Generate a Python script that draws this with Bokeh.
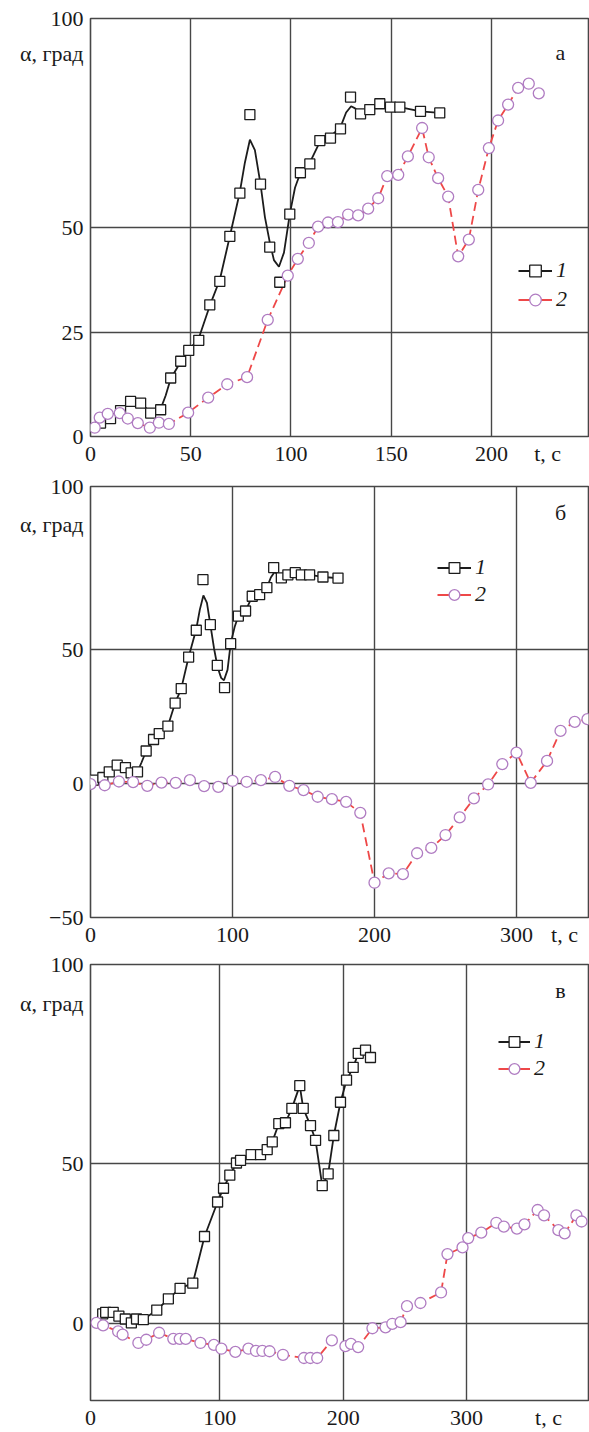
from bokeh.plotting import figure
from bokeh.models import Range1d, FixedTicker, Label, Legend, LegendItem
from bokeh.layouts import column
from bokeh.embed import file_html
from bokeh.resources import INLINE

# ---------------- Panel а ----------------
a_t1 = [5, 10, 15, 20, 25, 30, 35, 40, 45, 49, 54, 59.5, 64.5, 69.5, 74.5, 79.5, 84.8, 89.4, 94.4, 99.4,
        104.7, 109.4, 114.4, 119.7, 124.7, 129.7, 134.7, 139.3, 144.3, 149.6, 154.3, 164.6, 174.2]
a_a1 = [3.2, 4.3, 6.2, 8.4, 8.0, 5.6, 6.4, 14.0, 18.0, 20.6, 23.0, 31.5, 37.1, 47.9, 58.2, 77.0, 60.4, 45.3, 36.9, 53.2,
        63.1, 65.2, 70.8, 71.4, 73.6, 81.2, 77.2, 78.2, 79.6, 78.8, 78.8, 77.8, 77.4]
a_tc1 = [5, 10, 15, 20, 25, 30, 35, 37.5, 40, 45, 49, 54, 59.5, 64.5, 69.5, 74.5, 77, 79.5, 82, 84.8,
         87, 89.4, 91.5, 94, 96.5, 99.4, 102, 104.7, 109.4, 114.4, 119.7, 124.7, 127.5, 130, 132, 134.7,
         139.3, 144.3, 149.6, 154.3, 164.6, 174.2]
a_ac1 = [3.2, 4.3, 6.2, 8.3, 7.9, 5.8, 6.6, 9.8, 13.8, 17.9, 20.6, 23.5, 31.3, 37.5, 47.9, 58.5, 65.5, 71.0, 68.5, 60.4,
         52.5, 46.5, 42.2, 40.6, 44.0, 53.2, 59.5, 63.1, 65.5, 70.5, 71.8, 74.0, 77.5, 79.0, 78.5, 77.4,
         78.3, 79.5, 78.9, 78.8, 77.8, 77.4]
a_t2 = [2.1, 4.6, 8.6, 14.6, 18.6, 23.6, 29.6, 34.1, 39.1, 48.7, 58.7, 68.2, 78.1, 88.4, 98.4, 103.4, 108.9, 113.5,
        118.5, 123.4, 128.5, 133.5, 138.5, 143.5, 148, 153.5, 158.3, 165.4, 168.7, 173.4, 178.4, 183.4, 188.7,
        193.4, 198.7, 203.3, 208.3, 213.3, 218.6, 223.6]
a_a2 = [2.1, 4.5, 5.4, 5.6, 4.3, 3.2, 2.1, 3.3, 3.0, 5.7, 9.3, 12.5, 14.2, 27.9, 38.5, 42.5, 46.3, 50.2,
        51.2, 51.3, 53.1, 52.9, 54.5, 57.0, 62.3, 62.6, 67.0, 73.8, 66.8, 61.8, 57.4, 43.1, 47.1,
        59.0, 69.0, 75.6, 79.4, 83.4, 84.4, 82.1]
a_xgrid = [0, 50, 100, 150, 200]
a_ygrid = [0, 25, 50, 100]
a_xticks = [0, 50, 100, 150, 200, 228]
a_xlabels = ["0", "50", "100", "150", "200", "t, \u0441"]
a_yticks = [0, 25, 50, 91.6, 100]
a_ylabels = ["0", "25", "50", "\u03b1, \u0433\u0440\u0430\u0434", "100"]

# ---------------- Panel б ----------------
b_t1 = [2.1, 8.7, 13.2, 18.8, 24.6, 28.6, 33.1, 39.2, 44.4, 48.4, 54.5, 59.6, 63.9, 69.1, 74.5, 79.2, 84.4, 89.3,
        94.4, 98.7, 104.1, 109.2, 113.9, 119.1, 124.2, 129, 134.4, 139, 144.2, 148.5, 154.3, 163.7, 174.3]
b_a1 = [1.3, 2.3, 4.4, 6.9, 6.0, 4.0, 4.4, 12.2, 16.5, 18.7, 21.5, 30.1, 35.5, 47.3, 57.3, 76.2, 59.4, 44.2,
        35.9, 52.3, 62.6, 64.5, 70.0, 70.6, 73.2, 80.7, 76.9, 78.0, 78.8, 78.0, 78.0, 77.2, 76.8]
b_tc1 = [2.1, 8.7, 13.2, 18.8, 24.6, 28.6, 33.1, 36, 39.2, 44.4, 48.4, 54.5, 59.6, 63.9, 69.1, 74.5, 77, 79.5, 82,
         84.4, 87, 89.5, 92, 94, 96.5, 98.7, 101.5, 104.1, 109.2, 113.9, 119.1, 124.2, 127, 129.5, 132, 134.4,
         139, 144.2, 148.5, 154.3, 163.7, 174.3]
b_ac1 = [1.3, 2.3, 4.4, 6.9, 6.0, 4.0, 4.4, 8.0, 12.2, 16.5, 18.7, 21.5, 30.1, 35.5, 47.3, 57.8, 65.0, 70.3, 67.5,
         59.4, 50.5, 43.5, 39.5, 38.6, 42.5, 52.3, 58.5, 62.6, 64.5, 70.0, 70.6, 73.2, 77.0, 79.0, 78.3, 76.9,
         78.0, 78.8, 78.0, 78.0, 77.2, 76.8]
b_t2 = [0, 10, 20, 30, 40, 50, 60, 70, 80, 90, 100, 110, 120, 130, 140, 150, 160, 170, 180, 190,
        200, 210, 220, 230, 240, 250, 260, 270, 280, 290, 300, 310, 321.5, 331, 341, 350]
b_a2 = [-0.2, -0.6, 0.8, 0.6, -0.8, 0.4, 0.3, 1.3, -0.9, -1.2, 1.0, 0.7, 1.3, 2.5, -0.8, -2.4, -4.9, -5.8, -6.8, -10.9,
        -37.0, -33.5, -33.8, -26.0, -24.0, -19.2, -12.6, -5.5, -0.3, 7.3, 11.6, 0.3, 8.5, 19.7, 23.1, 24.1]
b_xgrid = [0, 100, 200, 300]
b_ygrid = [-50, 0, 50, 111]
b_xticks = [0, 100, 200, 300, 333.8]
b_xlabels = ["0", "100", "200", "300", "t, \u0441"]
b_yticks = [-50, 0, 50, 96.8, 111]
b_ylabels = ["\u221250", "0", "50", "\u03b1, \u0433\u0440\u0430\u0434", "100"]

# ---------------- Panel в ----------------
c_t1 = [5.1, 7.5, 13.6, 18.2, 23.4, 28.3, 32.5, 38, 48.9, 58.3, 67.8, 78.1, 87.6, 98.2, 103, 108.1, 113.5, 116.8,
        125.4, 133, 138.4, 142.5, 147.8, 153.2, 158.4, 164.8, 167.6, 173.5, 177.6, 183, 187.8, 192.4, 197.8,
        202.7, 208.1, 212.2, 218.1, 222.1]
c_a1 = [2.9, 3.4, 3.4, 2.2, 1.3, 0.1, 1.3, 1.1, 4.1, 7.6, 10.9, 12.5, 27.1, 37.9, 42.2, 46.3, 50.1, 50.9,
        52.7, 52.7, 54.3, 56.7, 62.4, 62.7, 67.2, 74.3, 67.2, 61.8, 57.2, 43.0, 46.7, 58.7, 69.1,
        76.0, 80.0, 84.4, 85.4, 83.1]
c_t2 = [0, 5.4, 17.6, 21.2, 34, 40.4, 50.8, 62.3, 67.5, 72.4, 84.3, 95.2, 101.3, 112.6, 123.2, 129.3, 134.5, 140.3,
        151.2, 168.2, 173.4, 178.9, 190.8, 201.8, 206.3, 212.1, 223.7, 234.3, 239.8, 246.5, 251.7, 262.6, 279.3,
        284.5, 296.7, 301.3, 311.9, 324.1, 330.2, 340.8, 346.9, 357.6, 362.8, 374.4, 379.5, 389, 393.2]
c_a2 = [0.1, -0.7, -2.6, -3.6, -6.2, -5.2, -3.0, -4.9, -4.9, -4.9, -6.2, -6.8, -8.0, -9.0, -8.0, -8.7, -8.7, -8.8,
        -9.9, -10.9, -10.9, -10.9, -5.4, -7.2, -6.5, -7.5, -1.6, -1.3, -0.2, 0.3, 5.3, 6.3, 9.6,
        21.6, 23.7, 26.6, 28.3, 31.4, 30.2, 29.6, 30.9, 35.4, 33.7, 29.1, 28.1, 33.7, 31.8]
c_xgrid = [-4.8, 100, 200, 300]
c_ygrid = [0, 50, 112.2]
c_xticks = [-4.8, 100, 200, 300, 366.4]
c_xlabels = ["0", "100", "200", "300", "t, \u0441"]
c_yticks = [0, 50, 99.9, 112.2]
c_ylabels = ["0", "50", "\u03b1, \u0433\u0440\u0430\u0434", "100"]

series_labels = ["1", "2"]
panel_letters = ["\u0430", "\u0431", "\u0432"]

FONT = "Liberation Serif"
FS = "22px"
GRID = "#474747"
BLACK = "#1c1c1c"
RED = "#ee4848"
PURPLE = "#b07cc2"
TXT = "#1a1a1a"
NAN = float("nan")


def make_fig(height, top, bottom, xr, yr, xticks, xlabels, yticks, ylabels, xgrid, ygrid, xstand):
    p = figure(width=589, height=height, x_range=Range1d(*xr), y_range=Range1d(*yr),
               output_backend="svg", toolbar_location=None,
               min_border_left=90, min_border_right=1, min_border_top=top, min_border_bottom=bottom)
    p.background_fill_color = "white"
    p.border_fill_color = "white"
    p.outline_line_color = GRID
    p.outline_line_width = 1.6
    p.xaxis.ticker = FixedTicker(ticks=xticks)
    p.yaxis.ticker = FixedTicker(ticks=yticks)
    p.xaxis.major_label_overrides = {k: v for k, v in zip(xticks, xlabels)}
    p.yaxis.major_label_overrides = {k: v for k, v in zip(yticks, ylabels)}
    for ax in (p.xaxis, p.yaxis):
        ax.axis_line_color = None
        ax.major_tick_line_color = None
        ax.minor_tick_line_color = None
        ax.major_tick_out = 0
        ax.major_tick_in = 0
        ax.minor_tick_out = 0
        ax.minor_tick_in = 0
        ax.major_label_text_font = FONT
        ax.major_label_text_font_size = FS
        ax.major_label_text_color = TXT
    p.xaxis.major_label_standoff = xstand
    p.yaxis.major_label_standoff = 7
    p.xgrid.ticker = FixedTicker(ticks=xgrid)
    p.ygrid.ticker = FixedTicker(ticks=ygrid)
    p.grid.grid_line_color = GRID
    p.grid.grid_line_width = 1.4
    return p


def draw(p, tc1, ac1, t1, a1, tc2, ac2, t2, a2):
    p.line(tc1, ac1, line_color=BLACK, line_width=1.8)
    p.line(tc2, ac2, line_color=RED, line_width=1.8, line_dash="9 5")
    p.scatter(t1, a1, marker="square", size=10, fill_color="white", line_color=BLACK, line_width=1.3)
    p.scatter(t2, a2, marker="circle", size=11, fill_color="white", line_color=PURPLE, line_width=1.3)


def decorate(p, letter, letter_y, lx, ly, gh, spacing, glyph_w):
    # legend (NaN renderers, so the legend line is solid and nothing appears in the plot)
    l1 = p.line([NAN], [NAN], line_color=BLACK, line_width=1.8)
    s1 = p.scatter([NAN], [NAN], marker="square", fill_color="white", line_color=BLACK, line_width=1.3)
    l2 = p.line([NAN], [NAN], line_color=RED, line_width=1.8)
    s2 = p.scatter([NAN], [NAN], marker="circle", fill_color="white", line_color=PURPLE, line_width=1.3)
    leg = Legend(items=[LegendItem(label=series_labels[0], renderers=[l1, s1]),
                        LegendItem(label=series_labels[1], renderers=[l2, s2])],
                 location=(lx, ly), orientation="vertical",
                 label_text_font=FONT, label_text_font_style="italic", label_text_font_size=FS,
                 label_text_color=TXT, glyph_width=glyph_w, glyph_height=gh, label_height=gh,
                 label_standoff=4, spacing=spacing, padding=0, margin=0,
                 border_line_color=None, background_fill_alpha=0)
    p.add_layout(leg)
    p.add_layout(Label(x=470, y=letter_y, x_units="screen", y_units="screen", text=letter,
                       text_align="center", text_baseline="alphabetic", text_font=FONT,
                       text_font_size=FS, text_color=TXT))


# Panel а: frame 18..436
pa = make_fig(469, 18, 33, (0, 248.4), (0, 100), a_xticks, a_xlabels, a_yticks, a_ylabels, a_xgrid, a_ygrid, 4)
draw(pa, a_tc1, a_ac1, a_t1, a_a1, a_t2, a_a2, a_t2, a_a2)
decorate(pa, panel_letters[0], 383.7, 428, 122.5, 29, 0, 34)

# Panel б: frame 486..918
pb = make_fig(480, 17, 31, (0, 350.7), (-50, 111), b_xticks, b_xlabels, b_yticks, b_ylabels, b_xgrid, b_ygrid, 4)
draw(pb, b_tc1, b_ac1, b_t1, b_a1, b_t2, b_a2, b_t2, b_a2)
decorate(pb, panel_letters[1], 405.3, 347, 309.5, 27, 0, 34)

# Panel в: frame 964..1401
pc = make_fig(483, 15, 31, (-4.8, 398.8), (-24.2, 112.2), c_xticks, c_xlabels, c_yticks, c_ylabels, c_xgrid, c_ygrid, 4)
draw(pc, c_t1, c_a1, c_t1, c_a1, c_t2, c_a2, c_t2, c_a2)
decorate(pc, panel_letters[2], 410, 408, 318.5, 27, 0, 32)

layout = column(pa, pb, pc, spacing=0)
open("out.html", "w").write(file_html(layout, INLINE))
